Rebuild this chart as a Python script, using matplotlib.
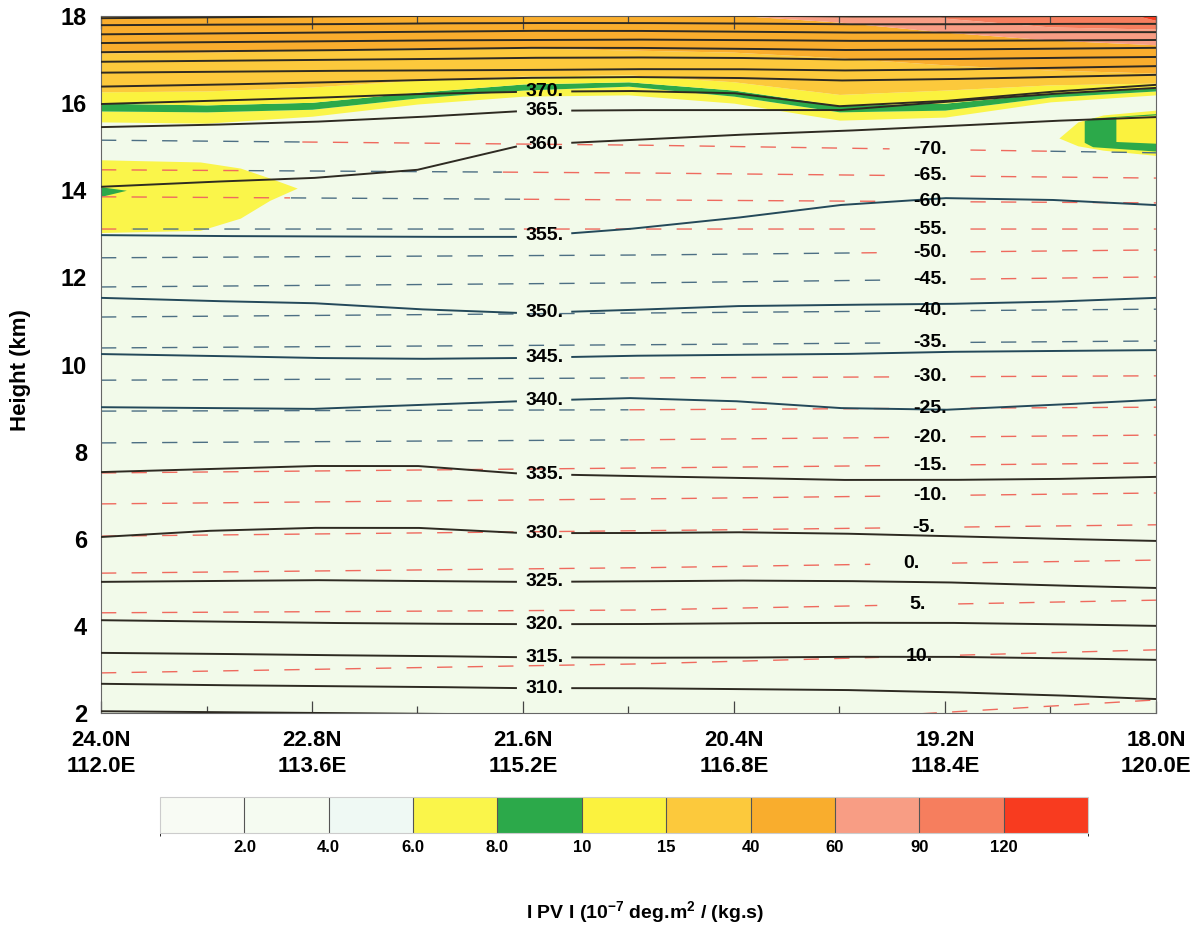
import numpy as np
import matplotlib
matplotlib.use('Agg')
import matplotlib.pyplot as plt
from matplotlib.colors import ListedColormap, BoundaryNorm
from matplotlib.cm import ScalarMappable

plt.rcParams['font.family'] = ['Liberation Sans', 'DejaVu Sans']
plt.rcParams['font.weight'] = 'bold'
plt.rcParams['axes.labelweight'] = 'bold'
plt.rcParams['mathtext.fontset'] = 'custom'
plt.rcParams['mathtext.bf'] = 'Liberation Sans:bold'
plt.rcParams['mathtext.rm'] = 'Liberation Sans:bold'
plt.rcParams['mathtext.default'] = 'bf'

lats = ['24.0N', '22.8N', '21.6N', '20.4N', '19.2N', '18.0N']
lons = ['112.0E', '113.6E', '115.2E', '116.8E', '118.4E', '120.0E']

# stations along the section (tick units 0..5)
xs = [0, 0.5, 1, 1.5, 2, 2.5, 3, 3.5, 4, 4.5, 5]

# heights (km) of the |PV| boundaries at each station
pv6 = [15.57, 15.54, 15.70, 15.98, 16.16, 16.19, 16.00, 15.61, 15.68, 16.03, 16.19]
pv8 = [15.82, 15.80, 15.86, 16.12, 16.30, 16.39, 16.16, 15.80, 15.84, 16.14, 16.28]
pv10 = [16.00, 15.96, 16.02, 16.25, 16.44, 16.49, 16.30, 15.95, 16.00, 16.23, 16.35]
pv15 = [16.26, 16.28, 16.37, 16.53, 16.62, 16.65, 16.49, 16.20, 16.30, 16.42, 16.46]
pv40 = [17.15, 17.17, 17.22, 17.27, 17.27, 17.22, 17.17, 17.04, 16.88, 16.76, 16.69]
pv60 = [18.5, 18.5, 18.5, 18.5, 18.5, 18.5, 18.02, 17.86, 17.63, 17.45, 17.34]
pv90 = [18.5, 18.5, 18.5, 18.5, 18.5, 18.5, 18.5, 18.5, 17.95, 17.75, 17.70]
pv120 = [18.5, 18.5, 18.5, 18.5, 18.5, 18.5, 18.5, 18.5, 18.5, 18.5, 17.90]
pv_top = [19.0] * 11

# isolated |PV| patches
left_x = [0, 0.47, 0.66, 0.80, 0.93]
left_top = [14.70, 14.65, 14.51, 14.28, 14.05]
left_bot = [13.03, 13.08, 13.36, 13.77, 14.05]
left_g_x = [0, 0.12]
left_g_top = [14.08, 14.0]
left_g_bot = [13.86, 14.0]
right_x = [4.54, 4.63, 4.75, 5.0]
right_top = [15.20, 15.57, 15.73, 15.84]
right_bot = [15.20, 15.02, 14.92, 14.80]
right_g_x = [4.66, 4.70, 5.0]
right_g_top = [15.60, 15.66, 15.76]
right_g_bot = [15.10, 15.00, 14.90]
right_y_x = [4.81, 5.0]
right_y_top = [15.68, 15.73]
right_y_bot = [15.12, 15.08]

# potential temperature (K) isentrope heights at each station
theta_levels = [305, 310, 315, 320, 325, 330, 335, 340, 345, 350, 355, 360, 365, 370,
                375, 380, 385, 390, 395, 400, 405, 410]
theta_z = [
    [2.04, 2.02, 2.00, 1.98, 1.97, 1.96, 1.95, 1.94, 1.92, 1.90, 1.88],
    [2.67, 2.64, 2.62, 2.60, 2.57, 2.57, 2.55, 2.53, 2.48, 2.41, 2.32],
    [3.38, 3.36, 3.33, 3.31, 3.28, 3.27, 3.27, 3.29, 3.29, 3.26, 3.22],
    [4.13, 4.10, 4.07, 4.05, 4.04, 4.04, 4.06, 4.07, 4.07, 4.04, 4.00],
    [5.01, 5.03, 5.05, 5.03, 5.01, 5.02, 5.04, 5.03, 5.00, 4.93, 4.87],
    [6.04, 6.18, 6.25, 6.25, 6.13, 6.13, 6.15, 6.12, 6.06, 6.00, 5.95],
    [7.53, 7.60, 7.67, 7.67, 7.49, 7.44, 7.40, 7.35, 7.35, 7.37, 7.42],
    [9.02, 9.00, 8.98, 9.07, 9.16, 9.23, 9.16, 9.00, 8.96, 9.07, 9.19],
    [10.24, 10.20, 10.15, 10.13, 10.15, 10.20, 10.22, 10.24, 10.29, 10.31, 10.33],
    [11.53, 11.46, 11.41, 11.27, 11.18, 11.25, 11.34, 11.37, 11.39, 11.44, 11.53],
    [12.97, 12.95, 12.94, 12.93, 12.93, 13.11, 13.36, 13.66, 13.82, 13.78, 13.66],
    [14.08, 14.19, 14.28, 14.47, 15.04, 15.15, 15.27, 15.36, 15.47, 15.59, 15.68],
    [15.45, 15.50, 15.57, 15.68, 15.82, 15.84, 15.84, 15.84, 16.03, 16.21, 16.35],
    [15.98, 16.05, 16.12, 16.21, 16.26, 16.28, 16.23, 15.93, 16.05, 16.26, 16.42],
    [16.38, 16.42, 16.47, 16.53, 16.58, 16.60, 16.58, 16.52, 16.55, 16.60, 16.65],
    [16.70, 16.72, 16.74, 16.75, 16.76, 16.78, 16.78, 16.75, 16.77, 16.81, 16.85],
    [16.95, 16.97, 16.99, 17.01, 17.04, 17.05, 17.04, 17.00, 17.01, 17.04, 17.06],
    [17.17, 17.19, 17.21, 17.24, 17.27, 17.27, 17.25, 17.22, 17.23, 17.25, 17.27],
    [17.38, 17.40, 17.42, 17.44, 17.45, 17.46, 17.45, 17.43, 17.43, 17.44, 17.45],
    [17.58, 17.60, 17.62, 17.64, 17.66, 17.66, 17.64, 17.62, 17.62, 17.63, 17.63],
    [17.79, 17.80, 17.81, 17.83, 17.84, 17.84, 17.83, 17.81, 17.81, 17.82, 17.82],
    [17.95, 17.97, 17.99, 18.00, 18.02, 18.02, 18.01, 17.99, 17.99, 18.00, 18.00],
]
theta_labeled = [310, 315, 320, 325, 330, 335, 340, 345, 350, 355, 360, 365, 370]
theta_lab_x = 2.1

# temperature (C) isotherm heights at left, middle, right
xt = [0, 2.5, 5]
temp_levels = [-70, -65, -60, -55, -50, -45, -40, -35, -30, -25, -20, -15, -10, -5, 0, 5, 10]
temp_z = [
    [15.15, 15.04, 14.86], [14.47, 14.40, 14.28], [13.85, 13.78, 13.71],
    [13.11, 13.11, 13.11], [12.45, 12.51, 12.63], [11.78, 11.87, 12.01],
    [11.09, 11.18, 11.27], [10.38, 10.45, 10.54], [9.64, 9.69, 9.74],
    [8.93, 8.96, 9.02], [8.20, 8.27, 8.38], [7.51, 7.62, 7.74],
    [6.80, 6.91, 7.05], [6.06, 6.18, 6.32], [5.21, 5.33, 5.51],
    [4.30, 4.36, 4.59], [2.92, 3.12, 3.45],
]
temp_lab_x = [3.93, 3.93, 3.93, 3.93, 3.93, 3.93, 3.93, 3.93, 3.93, 3.93, 3.93, 3.93,
              3.93, 3.90, 3.84, 3.87, 3.88]
# stretches where the isotherm dashes are drawn blue-grey
temp_blue = [[(0, 0.95), (4.5, 5)], [(0.7, 1.9)], [(0.9, 2.0)], [(0.15, 2.0)],
             [(0, 3.6)], [(0, 3.75)], [(0, 5)], [(0, 5)], [(0, 2.5)], [(0, 2.5)],
             [(0, 2.5)], [], [], [], [], [], []]
t15_x = [3.6, 5]
t15_z = [1.9, 2.3]

cb_bounds = [0, 2, 4, 6, 8, 10, 15, 40, 60, 90, 120, 150]
cb_labels = ['2.0', '4.0', '6.0', '8.0', '10', '15', '40', '60', '90', '120']
cb_colors = ['#f8fbf4', '#f5fbf1', '#eff9f4', '#faf54a', '#2ca94a', '#fbf23e',
             '#fcc93c', '#f9ad2d', '#f89d84', '#f67e5e', '#f83b1f']

bg = '#f2faea'
red_dash = '#ef6a5e'
blue_dash = '#4d6f84'

fig = plt.figure(figsize=(12.04, 9.32), dpi=100)
ax = fig.add_axes([0.0839, 0.2350, 0.8762, 0.7478])
ax.set_facecolor(bg)
ax.set_xlim(0, 5)
ax.set_ylim(2, 18)

# PV shading
bands = [(pv6, pv8, cb_colors[3]), (pv8, pv10, cb_colors[4]), (pv10, pv15, cb_colors[5]),
         (pv15, pv40, cb_colors[6]), (pv40, pv60, cb_colors[7]), (pv60, pv90, cb_colors[8]),
         (pv90, pv120, cb_colors[9]), (pv120, pv_top, cb_colors[10])]
for lo, hi, c in bands:
    ax.fill_between(xs, lo, hi, color=c, lw=0, zorder=1)
ax.fill_between(left_x, left_bot, left_top, color=cb_colors[3], lw=0, zorder=1)
ax.fill_between(left_g_x, left_g_bot, left_g_top, color=cb_colors[4], lw=0, zorder=1)
ax.fill_between(right_x, right_bot, right_top, color=cb_colors[3], lw=0, zorder=1)
ax.fill_between(right_g_x, right_g_bot, right_g_top, color=cb_colors[4], lw=0, zorder=1)
ax.fill_between(right_y_x, right_y_bot, right_y_top, color=cb_colors[5], lw=0, zorder=1)

xf = np.linspace(0, 5, 1201)

# isotherms (dashed)
for lev, zs, lx, blue in zip(temp_levels, temp_z, temp_lab_x, temp_blue):
    zf = np.interp(xf, xt, zs)
    gap = np.abs(xf - lx) < 0.19
    isblue = np.zeros_like(xf, dtype=bool)
    for a, b in blue:
        isblue |= (xf >= a) & (xf <= b)
    ax.plot(xf, np.where(gap | isblue, np.nan, zf), color=red_dash, lw=1.0,
            ls=(0, (11, 11)), zorder=2)
    ax.plot(xf, np.where(gap | ~isblue, np.nan, zf), color=blue_dash, lw=1.0,
            ls=(0, (11, 11)), zorder=2)
    ax.text(lx, np.interp(lx, xt, zs), f'{lev}.', fontsize=14, ha='center',
            va='center', zorder=4)
ax.plot(t15_x, t15_z, color=red_dash, lw=1.0, ls=(0, (11, 11)), zorder=2)

# isentropes (solid)
for lev, zs in zip(theta_levels, theta_z):
    zf = np.interp(xf, xs, zs)
    col = '#24495a' if 340 <= lev <= 355 else '#2e2a22'
    if lev in theta_labeled:
        zf = np.where(np.abs(xf - theta_lab_x) < 0.13, np.nan, zf)
        ax.text(theta_lab_x, np.interp(theta_lab_x, xs, zs), f'{lev}.', fontsize=14,
                ha='center', va='center', zorder=4)
    ax.plot(xf, zf, color=col, lw=1.4, zorder=3)

ax.set_xticks(range(6))
ax.set_xticklabels([f'{a}\n{b}' for a, b in zip(lats, lons)])
ax.set_xticks(np.arange(0.5, 5, 1), minor=True)
for lab in ax.get_xticklabels():
    lab.set_linespacing(1.35)
ax.set_yticks(range(2, 19, 2))
ax.tick_params(axis='x', which='both', direction='in', top=True, bottom=True, color='#444')
ax.tick_params(axis='x', which='major', length=9, width=0.9, labelsize=16, pad=12)
ax.tick_params(axis='x', which='minor', length=5, width=0.9)
ax.tick_params(axis='y', length=0, labelsize=17, pad=10)
for s in ax.spines.values():
    s.set_color('#666')
    s.set_linewidth(0.8)
ax.set_ylabel('Height (km)', fontsize=16, fontweight='bold')
ax.yaxis.set_label_coords(-0.066, 0.492)

# colour bar
cmap = ListedColormap(cb_colors)
norm = BoundaryNorm(cb_bounds, cmap.N)
cax = fig.add_axes([0.1329, 0.1062, 0.7708, 0.0386])
cb = fig.colorbar(ScalarMappable(norm=norm, cmap=cmap), cax=cax, orientation='horizontal',
                  spacing='uniform', ticks=cb_bounds[1:-1], drawedges=True)
cb.set_ticklabels(cb_labels)
cb.ax.tick_params(length=0, labelsize=12, pad=5)
cb.outline.set_edgecolor('#cccccc')
cb.outline.set_linewidth(0.8)
cb.dividers.set_color('#555555')
cb.dividers.set_linewidth(0.8)

fig.text(0.536, 0.0215, r'I PV I (10$^{-7}$ deg.m$^2$ / (kg.s)', ha='center', va='center',
         fontsize=14)

fig.savefig('out.png', dpi=100)
